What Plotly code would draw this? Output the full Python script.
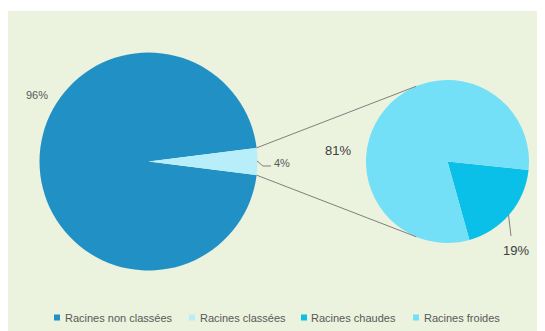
import math
import plotly.graph_objects as go

# ---- data ----
main_labels = ["Racines non classées", "Racines classées"]
main_values = [96, 4]
sub_labels = ["Racines chaudes", "Racines froides"]
sub_values = [19, 81]

legend_labels = main_labels + sub_labels
main_colors = ["#2191c5", "#b8eefa"]
sub_colors = ["#0bc0e8", "#73e0f8"]
legend_colors = main_colors + sub_colors

W, H = 545, 331
BG = "#ebf2dd"
OFF = 8  # page body margin

# geometry (screen pixels, y from top)
L_CX, L_CY, L_R = 148.5, 161.5, 109
R_CX, R_CY, R_R = 447.5, 161.5, 81.5


def px(x):
    return (x - OFF) / W


def py(y):
    return (H - (y - OFF)) / H


def pie_domain(cx, cy, r):
    return dict(x=[px(cx - r), px(cx + r)], y=[py(cy + r), py(cy - r)])


small_frac = main_values[1] / sum(main_values)
left_rot = 90 + small_frac * 360 / 2
right_rot = 96

fig = go.Figure()
fig.add_trace(go.Pie(
    labels=main_labels, values=main_values, sort=False, direction="clockwise",
    rotation=left_rot, marker=dict(colors=main_colors, line=dict(width=0)),
    textinfo="none", hoverinfo="label+percent", showlegend=False,
    domain=pie_domain(L_CX, L_CY, L_R),
))
fig.add_trace(go.Pie(
    labels=sub_labels, values=sub_values, sort=False, direction="clockwise",
    rotation=right_rot, marker=dict(colors=sub_colors, line=dict(width=0)),
    textinfo="none", hoverinfo="label+percent", showlegend=False,
    domain=pie_domain(R_CX, R_CY, R_R),
))

shapes = [dict(type="rect", xref="paper", yref="paper", x0=px(8), x1=1, y0=0, y1=py(11),
               fillcolor=BG, line=dict(width=0), layer="below")]

LINE = dict(color="#7f7f7f", width=1)
half = math.radians(small_frac * 360 / 2)
conn = math.radians(112.5)
for s in (1, -1):
    x0 = L_CX + L_R * math.cos(half)
    y0 = L_CY - s * L_R * math.sin(half)
    x1 = R_CX + R_R * math.cos(conn)
    y1 = R_CY - s * R_R * math.sin(conn)
    shapes.append(dict(type="line", xref="paper", yref="paper",
                       x0=px(x0), y0=py(y0), x1=px(x1), y1=py(y1), line=LINE))

shapes.append(dict(type="path", xref="paper", yref="paper",
                   path=f"M{px(257)},{py(161)} L{px(263)},{py(166)} L{px(271)},{py(166)}",
                   line=LINE))
shapes.append(dict(type="line", xref="paper", yref="paper",
                   x0=px(508.5), y0=py(215), x1=px(511), y1=py(236), line=LINE))

FONT = "Liberation Sans, Arial, sans-serif"
annotations = [
    dict(text=f"{main_values[0]}%", x=px(36.5), y=py(95.5), font=dict(size=11, color="#595959")),
    dict(text=f"{main_values[1]}%", x=px(282), y=py(162.5), font=dict(size=11, color="#595959")),
    dict(text=f"{sub_values[1]}%", x=px(338), y=py(150.5), font=dict(size=13, color="#404040")),
    dict(text=f"{sub_values[0]}%", x=px(515.5), y=py(250.5), font=dict(size=13, color="#404040")),
]
for a in annotations:
    a.update(xref="paper", yref="paper", showarrow=False, xanchor="center", yanchor="middle")

leg_sq_x = [54, 189, 301, 413]
for lbl, col, sx in zip(legend_labels, legend_colors, leg_sq_x):
    shapes.append(dict(type="rect", xref="paper", yref="paper",
                       x0=px(sx), x1=px(sx + 6), y0=py(320.5), y1=py(314.5),
                       fillcolor=col, line=dict(width=0)))
    annotations.append(dict(text=lbl, x=px(sx + 8.5), y=py(317.5), xref="paper", yref="paper",
                            showarrow=False, xanchor="left", yanchor="middle",
                            font=dict(size=11, color="#595959")))

fig.update_layout(
    width=W, height=H, margin=dict(l=0, r=0, t=0, b=0),
    paper_bgcolor="white", plot_bgcolor="white",
    font=dict(family=FONT),
    shapes=shapes, annotations=annotations, showlegend=False,
)
fig.write_html("out.html")
